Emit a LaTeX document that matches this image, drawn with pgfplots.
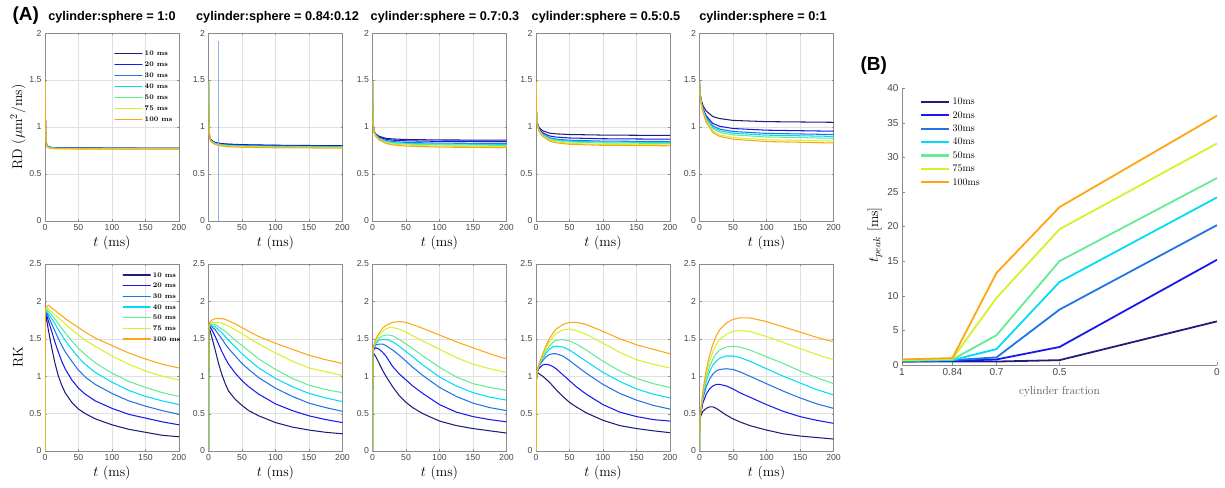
\documentclass[border=0pt]{standalone}
\usepackage{fontspec}
\setsansfont{Liberation Sans}
\usepackage{pgfplots}
\usepackage{pgfplotstable}
\pgfplotsset{compat=1.18}
\definecolor{c1}{RGB}{30,30,120}
\definecolor{c2}{RGB}{25,25,235}
\definecolor{c3}{RGB}{35,115,230}
\definecolor{c4}{RGB}{0,220,245}
\definecolor{c5}{RGB}{100,235,150}
\definecolor{c6}{RGB}{215,240,40}
\definecolor{c7}{RGB}{255,165,20}
\definecolor{vline}{RGB}{140,175,240}

% ---------- RD tables ----------
\pgfplotstableread{
t a b c d e f g
0 1.48 1.48 1.48 1.48 1.48 1.48 1.48
0.5 1.15 1.15 1.15 1.15 1.15 1.15 1.15
1 0.95 0.95 0.95 0.95 0.95 0.95 0.95
2 0.83 0.83 0.83 0.83 0.83 0.83 0.83
3 0.805 0.804 0.802 0.800 0.799 0.797 0.795
5 0.790 0.789 0.787 0.785 0.784 0.782 0.780
10 0.782 0.781 0.779 0.777 0.776 0.774 0.772
20 0.779 0.777 0.775 0.774 0.772 0.770 0.768
50 0.777 0.775 0.773 0.772 0.770 0.768 0.766
100 0.776 0.774 0.772 0.771 0.769 0.767 0.765
200 0.775 0.773 0.771 0.770 0.768 0.766 0.764
}\rdA
\pgfplotstableread{
t a b c d e f g
0 1.48 1.48 1.48 1.48 1.48 1.48 1.48
0.5 1.1 1.1 1.1 1.1 1.1 1.1 1.1
1 0.950 0.949 0.947 0.945 0.944 0.942 0.940
2 0.885 0.883 0.878 0.875 0.873 0.869 0.865
3 0.870 0.868 0.863 0.860 0.858 0.854 0.850
5 0.855 0.853 0.848 0.845 0.843 0.839 0.835
10 0.835 0.833 0.827 0.824 0.821 0.817 0.813
20 0.823 0.820 0.814 0.810 0.807 0.802 0.797
30 0.818 0.815 0.808 0.804 0.801 0.796 0.790
50 0.812 0.809 0.802 0.798 0.795 0.790 0.784
100 0.806 0.803 0.797 0.793 0.789 0.784 0.779
200 0.800 0.798 0.791 0.788 0.785 0.780 0.775
}\rdB
\pgfplotstableread{
t a b c d e f g
0 1.48 1.48 1.48 1.48 1.48 1.48 1.48
0.5 1.15 1.15 1.15 1.15 1.15 1.15 1.15
1 1.030 1.028 1.025 1.024 1.023 1.021 1.020
2 0.970 0.968 0.965 0.964 0.963 0.961 0.960
3 0.945 0.942 0.938 0.936 0.935 0.932 0.930
5 0.925 0.920 0.914 0.911 0.908 0.904 0.900
10 0.900 0.892 0.882 0.877 0.872 0.866 0.860
20 0.880 0.869 0.855 0.848 0.842 0.833 0.825
30 0.873 0.860 0.845 0.836 0.829 0.819 0.810
50 0.867 0.853 0.836 0.826 0.818 0.808 0.797
100 0.862 0.847 0.828 0.818 0.809 0.797 0.786
200 0.860 0.845 0.825 0.815 0.805 0.790 0.780
}\rdC
\pgfplotstableread{
t a b c d e f g
0 1.48 1.48 1.48 1.48 1.48 1.48 1.48
0.5 1.2 1.2 1.2 1.2 1.2 1.2 1.2
1 1.100 1.096 1.094 1.093 1.092 1.091 1.090
2 1.050 1.043 1.038 1.036 1.035 1.032 1.030
3 1.020 1.009 1.002 1.000 0.997 0.993 0.990
5 0.990 0.976 0.966 0.963 0.959 0.954 0.950
10 0.960 0.938 0.925 0.919 0.914 0.905 0.900
20 0.935 0.905 0.886 0.879 0.871 0.859 0.852
30 0.927 0.893 0.871 0.862 0.854 0.841 0.832
50 0.920 0.883 0.859 0.849 0.840 0.825 0.816
100 0.914 0.875 0.850 0.840 0.830 0.815 0.805
200 0.910 0.870 0.845 0.835 0.825 0.810 0.800
}\rdD
\pgfplotstableread{
t a b c d e f g
0 1.48 1.48 1.48 1.48 1.48 1.48 1.48
0.5 1.400 1.391 1.388 1.386 1.385 1.382 1.380
1 1.360 1.351 1.348 1.346 1.345 1.342 1.340
2 1.310 1.297 1.292 1.290 1.287 1.283 1.280
3 1.280 1.259 1.250 1.246 1.242 1.235 1.230
5 1.230 1.200 1.189 1.182 1.176 1.166 1.160
10 1.170 1.118 1.099 1.088 1.078 1.061 1.050
20 1.110 1.037 1.010 0.994 0.979 0.955 0.940
30 1.090 1.008 0.978 0.961 0.944 0.917 0.900
50 1.070 0.984 0.952 0.934 0.916 0.888 0.870
100 1.057 0.966 0.932 0.913 0.894 0.864 0.845
200 1.050 0.955 0.920 0.900 0.880 0.850 0.830
}\rdE
% ---------- RK tables ----------
\pgfplotstableread{
t a b c d e f g
0 0 0 0 0 0 0 0
0.5 1.72 1.78 1.80 1.82 1.84 1.86 1.88
2 1.78 1.83 1.86 1.88 1.90 1.92 1.93
5 1.62 1.74 1.80 1.84 1.87 1.90 1.95
10 1.38 1.60 1.70 1.77 1.82 1.86 1.91
15 1.17 1.45 1.60 1.70 1.76 1.82 1.88
20 1.00 1.32 1.50 1.62 1.70 1.78 1.84
25 0.88 1.20 1.41 1.55 1.64 1.74 1.81
30 0.78 1.10 1.33 1.48 1.58 1.70 1.77
40 0.65 0.95 1.20 1.36 1.47 1.62 1.71
50 0.56 0.84 1.08 1.25 1.37 1.55 1.65
60 0.50 0.76 0.99 1.16 1.29 1.48 1.59
75 0.43 0.67 0.89 1.05 1.18 1.40 1.51
100 0.35 0.57 0.77 0.92 1.04 1.27 1.41
125 0.29 0.49 0.67 0.81 0.93 1.16 1.31
150 0.25 0.44 0.60 0.73 0.85 1.07 1.23
175 0.21 0.39 0.54 0.67 0.78 1.00 1.16
200 0.19 0.35 0.49 0.62 0.73 0.95 1.11
}\rkA
\pgfplotstableread{
t a b c d e f g
0 0 0 0 0 0 0 0
0.5 1.58 1.62 1.64 1.65 1.66 1.66 1.66
2 1.62 1.66 1.68 1.69 1.70 1.71 1.72
5 1.52 1.62 1.66 1.68 1.70 1.72 1.75
10 1.35 1.53 1.62 1.66 1.69 1.72 1.77
15 1.17 1.43 1.56 1.62 1.66 1.72 1.77
20 1.02 1.33 1.50 1.58 1.63 1.71 1.77
25 0.90 1.24 1.43 1.53 1.60 1.69 1.76
30 0.80 1.16 1.37 1.48 1.56 1.67 1.74
40 0.69 1.04 1.27 1.39 1.48 1.62 1.70
50 0.61 0.94 1.17 1.30 1.41 1.57 1.65
60 0.54 0.86 1.09 1.22 1.34 1.51 1.60
75 0.47 0.76 0.98 1.11 1.23 1.43 1.53
100 0.38 0.63 0.84 0.97 1.09 1.31 1.44
125 0.32 0.54 0.73 0.86 0.97 1.20 1.36
150 0.28 0.47 0.64 0.77 0.88 1.11 1.28
175 0.25 0.42 0.58 0.71 0.82 1.06 1.22
200 0.23 0.38 0.53 0.66 0.78 1.01 1.17
}\rkB
\pgfplotstableread{
t a b c d e f g
0 0 0 0 0 0 0 0
0.5 1.26 1.30 1.32 1.33 1.33 1.34 1.35
2 1.30 1.36 1.38 1.39 1.40 1.41 1.42
5 1.26 1.38 1.42 1.44 1.46 1.48 1.50
10 1.17 1.36 1.43 1.48 1.51 1.55 1.58
15 1.08 1.32 1.43 1.49 1.54 1.60 1.64
20 1.00 1.27 1.41 1.49 1.55 1.63 1.68
25 0.93 1.20 1.38 1.48 1.55 1.65 1.70
30 0.86 1.13 1.35 1.46 1.54 1.65 1.72
40 0.74 1.03 1.28 1.40 1.49 1.63 1.73
50 0.65 0.95 1.20 1.33 1.43 1.59 1.72
60 0.58 0.87 1.12 1.26 1.37 1.54 1.69
75 0.50 0.77 1.01 1.15 1.27 1.47 1.64
100 0.40 0.62 0.85 0.99 1.12 1.36 1.55
125 0.34 0.52 0.73 0.87 0.99 1.25 1.46
150 0.30 0.46 0.64 0.78 0.90 1.16 1.38
175 0.27 0.42 0.58 0.72 0.85 1.10 1.30
200 0.24 0.39 0.54 0.68 0.81 1.05 1.23
}\rkC
\pgfplotstableread{
t a b c d e f g
0 0 0 0 0 0 0 0
0.5 0.95 0.95 0.95 0.95 0.95 0.95 0.95
2 1.05 1.06 1.07 1.07 1.08 1.08 1.09
5 1.03 1.11 1.14 1.15 1.16 1.17 1.18
10 1.00 1.15 1.21 1.24 1.26 1.28 1.30
15 0.96 1.16 1.26 1.31 1.34 1.38 1.41
20 0.92 1.15 1.29 1.36 1.40 1.46 1.50
25 0.87 1.13 1.30 1.39 1.45 1.52 1.57
30 0.82 1.10 1.30 1.40 1.48 1.57 1.63
40 0.73 1.02 1.27 1.39 1.49 1.62 1.69
50 0.65 0.94 1.21 1.35 1.47 1.63 1.72
60 0.59 0.86 1.14 1.29 1.43 1.61 1.72
75 0.51 0.76 1.04 1.20 1.35 1.56 1.69
100 0.41 0.62 0.89 1.05 1.20 1.44 1.60
125 0.34 0.52 0.77 0.93 1.07 1.32 1.50
150 0.30 0.46 0.68 0.83 0.97 1.22 1.42
175 0.27 0.42 0.61 0.76 0.90 1.16 1.36
200 0.245 0.40 0.56 0.71 0.85 1.11 1.30
}\rkD
\pgfplotstableread{
t a b c d e f g
0 0 0 0 0 0 0 0
0.5 0.42 0.43 0.43 0.43 0.43 0.43 0.43
2 0.47 0.50 0.52 0.53 0.54 0.55 0.56
5 0.53 0.64 0.70 0.73 0.75 0.78 0.80
10 0.57 0.76 0.86 0.93 0.98 1.03 1.08
15 0.59 0.83 0.96 1.06 1.13 1.20 1.28
20 0.59 0.87 1.03 1.15 1.23 1.33 1.43
25 0.57 0.89 1.07 1.20 1.30 1.42 1.54
30 0.54 0.89 1.09 1.24 1.35 1.49 1.62
40 0.48 0.87 1.10 1.27 1.39 1.56 1.71
50 0.43 0.83 1.09 1.27 1.40 1.60 1.76
60 0.39 0.78 1.06 1.25 1.39 1.61 1.78
75 0.34 0.72 1.00 1.20 1.35 1.60 1.78
100 0.28 0.62 0.90 1.10 1.26 1.53 1.73
125 0.23 0.53 0.80 1.00 1.17 1.45 1.66
150 0.20 0.46 0.71 0.91 1.07 1.37 1.59
175 0.18 0.41 0.63 0.82 0.98 1.29 1.52
200 0.16 0.37 0.57 0.75 0.90 1.22 1.46
}\rkE
% ---------- panel B ----------
\pgfplotstableread{
f a b c d e f7 g
1 0.5 0.5 0.6 0.6 0.7 0.7 0.8
0.84 0.5 0.6 0.7 0.7 0.8 0.9 1.0
0.7 0.5 0.8 1.1 2.3 4.3 9.7 13.3
0.5 0.7 2.6 8.0 12.0 15.0 19.6 22.8
0 6.3 15.2 20.2 24.2 27.0 32.0 36.0
}\tpeak

\newcommand{\curves}[1]{%
\addplot[c1] table[x=t,y=a]{#1};
\addplot[c2] table[x=t,y=b]{#1};
\addplot[c3] table[x=t,y=c]{#1};
\addplot[c4] table[x=t,y=d]{#1};
\addplot[c5] table[x=t,y=e]{#1};
\addplot[c6] table[x=t,y=f]{#1};
\addplot[c7] table[x=t,y=g]{#1};}

\pgfplotsset{
  base/.style={scale only axis, anchor=south west, width=134pt,
    xmin=0, xmax=200, xtick={0,50,100,150,200},
    grid=major, grid style={black!12, line width=0.4pt},
    axis line style={black!45}, tick style={black!45}, major tick length=2pt,
    tick align=inside,
    ticklabel style={font=\sffamily\fontsize{8.7}{10}\selectfont, text=black!72},
    /pgf/number format/assume math mode=true,
    xlabel={$t$ (ms)},
    xlabel style={font=\fontsize{14}{16}\selectfont, at={(axis description cs:0.5,0)}, anchor=center, yshift=-22pt},
    ylabel style={font=\fontsize{14}{16}\selectfont, at={(axis description cs:0,0.5)}, anchor=center, yshift=27pt},
    every axis plot/.append style={line width=1.05pt},
    legend cell align=left,
    legend image code/.code={\draw[##1, line width=1.4pt, line cap=round] (0pt,0.3pt) -- (27pt,0.3pt);},
  },
  rdax/.style={base, height=188pt, ymin=0, ymax=2, ytick={0,0.5,1,1.5,2}},
  rkax/.style={base, height=187pt, ymin=0, ymax=2.5, ytick={0,0.5,1,1.5,2,2.5}},
}

\begin{document}
\begin{tikzpicture}[x=1pt,y=1pt]
\useasboundingbox (0,0) rectangle (1225,487);

% titles
\node[font=\sffamily\bfseries\fontsize{19}{22}\selectfont, anchor=base west] at (9,466) {(A)};
\node[font=\sffamily\bfseries\fontsize{19}{22}\selectfont, anchor=base west] at (857,416) {(B)};
\foreach \x/\t in {112/1:0, 277.5/0.84:0.12, 445/0.7:0.3, 606/0.5:0.5, 763/0:1}
  \node[font=\sffamily\bfseries\fontsize{12.7}{15}\selectfont, anchor=base] at (\x,466) {cylinder:sphere = \t};

% ---- top row RD ----
\begin{axis}[rdax, at={(45pt,266pt)}, ylabel={RD ($\mu\mathrm{m}^2$/ms)},
  legend style={draw=none, fill=none, inner sep=0pt, at={(rel axis cs:0.516,0.92)}, anchor=north west,
    font=\fontsize{7}{8}\selectfont\bfseries, nodes={inner sep=2pt, text height=5.5pt, text depth=1.5pt}}]
\curves{\rdA}
\legend{10 ms,20 ms,30 ms,40 ms,50 ms,75 ms,100 ms}
\end{axis}
\begin{axis}[rdax, at={(208.5pt,266pt)}]
\curves{\rdB}
\addplot[vline, line width=0.8pt] coordinates {(15,0) (15,1.92)};
\end{axis}
\begin{axis}[rdax, at={(372.5pt,266pt)}]
\curves{\rdC}
\end{axis}
\begin{axis}[rdax, at={(536pt,266pt)}]
\curves{\rdD}
\end{axis}
\begin{axis}[rdax, at={(699.5pt,266pt)}]
\curves{\rdE}
\end{axis}

% ---- bottom row RK ----
\begin{axis}[rkax, at={(45pt,36pt)}, ylabel={RK},
  legend style={draw=none, fill=none, inner sep=0pt, at={(rel axis cs:0.577,0.97)}, anchor=north west,
    font=\fontsize{7}{8}\selectfont\bfseries, nodes={inner sep=1.85pt, text height=5.5pt, text depth=1.5pt}}]
\curves{\rkA}
\legend{10 ms,20 ms,30 ms,40 ms,50 ms,75 ms,100 ms}
\end{axis}
\begin{axis}[rkax, at={(208.5pt,36pt)}]
\curves{\rkB}
\end{axis}
\begin{axis}[rkax, at={(372.5pt,36pt)}]
\curves{\rkC}
\end{axis}
\begin{axis}[rkax, at={(536pt,36pt)}]
\curves{\rkD}
\end{axis}
\begin{axis}[rkax, at={(699.5pt,36pt)}]
\curves{\rkE}
\end{axis}

% ---- panel B ----
\begin{axis}[scale only axis, anchor=south west, at={(902pt,122pt)}, width=315pt, height=277pt,
  xmin=0, xmax=1, x dir=reverse, ymin=0, ymax=40, ytick={0,5,10,15,20,25,30,35,40},
  xtick={0,0.5,0.7,0.84,1}, xticklabels={0,0.5,0.7,0.84,1},
  axis lines=left, axis line style={black!45, -}, tick style={black!45}, major tick length=3pt, tick align=inside,
  ticklabel style={font=\sffamily\fontsize{10}{12}\selectfont, text=black!72},
  /pgf/number format/assume math mode=true,
  xlabel={cylinder fraction}, xlabel style={font=\fontsize{11.5}{14}\selectfont, text=black!65, at={(axis description cs:0.5,0)}, anchor=center, yshift=-27pt},
  ylabel={$t_{peak}$ [ms]}, ylabel style={font=\fontsize{14}{16}\selectfont, at={(axis description cs:0,0.47)}, anchor=center, yshift=27pt},
  every axis plot/.append style={line width=1.8pt},
  legend cell align=left,
  legend image code/.code={\draw[#1, line width=2.2pt] (0pt,0.3pt) -- (28pt,0.3pt);},
  legend style={draw=none, fill=none, inner sep=0pt, at={(rel axis cs:0.057,0.974)}, anchor=north west,
    font=\fontsize{10}{12}\selectfont, nodes={inner sep=2.2pt, text height=7pt, text depth=2pt}}]
\addplot[c1] table[x=f,y=a]{\tpeak};
\addplot[c2] table[x=f,y=b]{\tpeak};
\addplot[c3] table[x=f,y=c]{\tpeak};
\addplot[c4] table[x=f,y=d]{\tpeak};
\addplot[c5] table[x=f,y=e]{\tpeak};
\addplot[c6] table[x=f,y=f7]{\tpeak};
\addplot[c7] table[x=f,y=g]{\tpeak};
\legend{10ms,20ms,30ms,40ms,50ms,75ms,100ms}
\end{axis}
\end{tikzpicture}
\end{document}
